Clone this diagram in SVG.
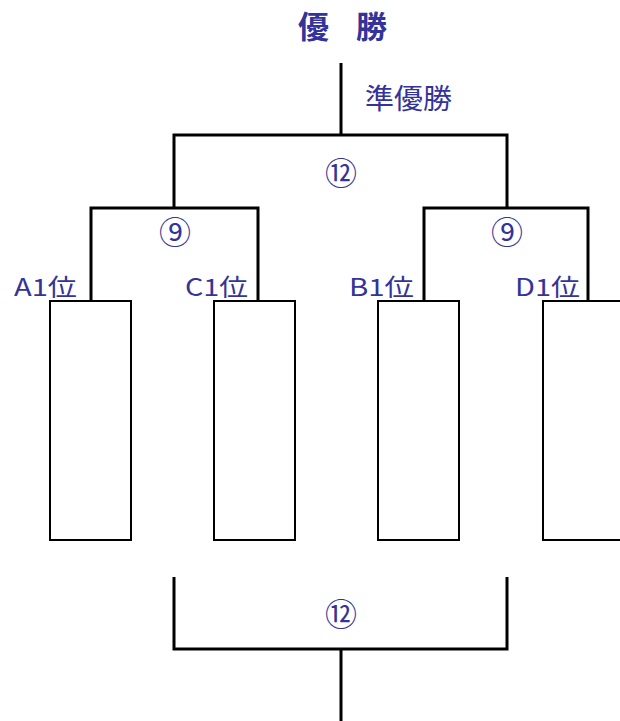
<svg xmlns="http://www.w3.org/2000/svg" width="620" height="721" viewBox="0 0 620 721">
<style>
.ln{fill:none;stroke:#000;stroke-width:3;stroke-linecap:butt;stroke-linejoin:miter}
.bx{fill:#fff;stroke:#000;stroke-width:2}
.t{font-family:"Noto Sans CJK JP","Noto Sans",sans-serif;fill:#333399}
.lb{font-size:24px}
.cn{font-size:32px;text-anchor:middle;dominant-baseline:central}
</style>
<rect width="620" height="721" fill="#fff"/>
<g id="connectors">
<path class="ln" d="M341 63V135M174 208V135H507V208"/>
<path class="ln" d="M91 300V208H258V300"/>
<path class="ln" d="M424 300V208H588V300"/>
<path class="ln" d="M174 577V649H507V577M341 649V721"/>
</g>
<g id="title"><text class="t" x="298" y="38" font-size="31" font-weight="bold" letter-spacing="10">優 勝</text></g>
<g id="runnerup"><text class="t" x="365" y="109" font-size="28" textLength="87" lengthAdjust="spacingAndGlyphs">準優勝</text></g>
<g id="final"><text class="t cn" x="341" y="171">⑫</text></g>
<g id="semiL"><text class="t cn" x="175" y="230">⑨</text></g>
<g id="semiR"><text class="t cn" x="507" y="230">⑨</text></g>
<g id="nodeA"><text class="t lb" x="14" y="296" textLength="63" lengthAdjust="spacingAndGlyphs">A1位</text><rect class="bx" x="50" y="301" width="81" height="239"/></g>
<g id="nodeC"><text class="t lb" x="185" y="296" textLength="63" lengthAdjust="spacingAndGlyphs">C1位</text><rect class="bx" x="214" y="301" width="81" height="239"/></g>
<g id="nodeB"><text class="t lb" x="349" y="296" textLength="65" lengthAdjust="spacingAndGlyphs">B1位</text><rect class="bx" x="378" y="301" width="81" height="239"/></g>
<g id="nodeD"><text class="t lb" x="515" y="296" textLength="65" lengthAdjust="spacingAndGlyphs">D1位</text><rect class="bx" x="543" y="301" width="81" height="239"/></g>
<g id="third"><text class="t cn" x="341" y="612">⑫</text></g>
</svg>
